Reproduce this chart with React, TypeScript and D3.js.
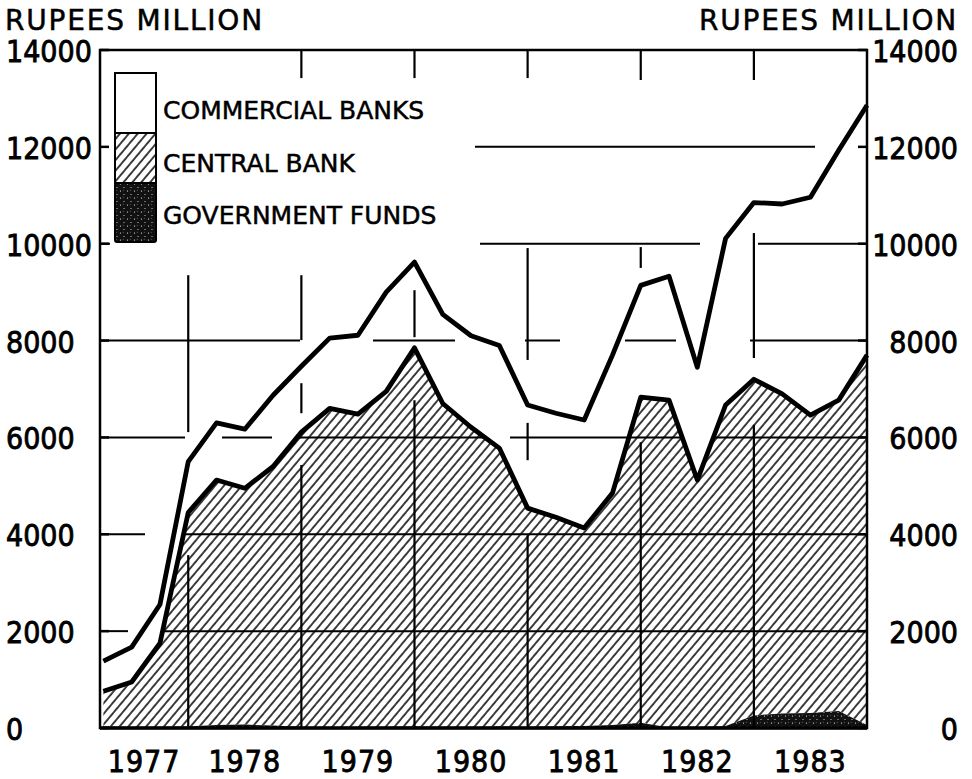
import React from 'react'
import * as d3 from 'd3'

// quarterly observations, end of quarter
const quarters = [
  '1977 Q1', '1977 Q2', '1977 Q3', '1977 Q4',
  '1978 Q1', '1978 Q2', '1978 Q3', '1978 Q4',
  '1979 Q1', '1979 Q2', '1979 Q3', '1979 Q4',
  '1980 Q1', '1980 Q2', '1980 Q3', '1980 Q4',
  '1981 Q1', '1981 Q2', '1981 Q3', '1981 Q4',
  '1982 Q1', '1982 Q2', '1982 Q3', '1982 Q4',
  '1983 Q1', '1983 Q2', '1983 Q3', '1983 Q4',
]
const governmentFunds = [
  30, 20, 20, 30, 60, 70, 50, 20, 10, 20, 20, 30, 20, 10,
  30, 20, 30, 40, 60, 110, 10, 10, 40, 260, 300, 310, 350, 60,
]
const centralBank = [
  730, 930, 1730, 4420, 5060, 4880, 5350, 6090, 6590, 6460, 6930, 7820, 6680, 6200,
  5750, 4520, 4320, 4090, 4790, 6720, 6760, 5110, 6630, 6940, 6600, 6150, 6420, 7640,
]
const commercialBanks = [
  620, 720, 800, 1050, 1180, 1220, 1470, 1360, 1450, 1630, 2050, 1770, 1840, 1890,
  2120, 2130, 2150, 2230, 2850, 2310, 2560, 2330, 3440, 3650, 3920, 4500, 5160, 5160,
]
const yTicks = [0, 2000, 4000, 6000, 8000, 10000, 12000, 14000]
const gridValues = [2000, 4000, 6000, 8000, 10000, 12000]
const years = [1977, 1978, 1979, 1980, 1981, 1982, 1983]
const legendItems = ['COMMERCIAL BANKS', 'CENTRAL BANK', 'GOVERNMENT FUNDS']
const unitLabel = 'RUPEES MILLION'

// the printed grid is broken up; these are the visible pieces (pixel dash patterns)
const gridDash: Record<number, string> = {
  2000: '28 2000',
  4000: '45 2000',
  6000: '85 37 50 48 145 45 155 55 147 100',
  8000: '200 73 82 70 35 65 51 74 120 100',
  10000: '10 370 220 58 110 100',
  12000: '0 375 340 2000',
}
// visible pieces of the year dividers, in rupee-million units
const dividerPieces: Record<number, [number, number][]> = {
  1978: [[9350, 6110], [3570, 0]],
  1979: [[14000, 13420], [9350, 8010], [7120, 6500], [5430, 0]],
  1980: [[14000, 13420], [9040, 8070], [6770, 0]],
  1981: [[14000, 13420], [9910, 7600], [6300, 5530], [3980, 0]],
  1982: [[14000, 13380], [9930, 9500], [5900, 0]],
  1983: [[14000, 13380], [10220, 7640], [6260, 0]],
}

const W = 972
const H = 779
const margin = { top: 50, right: 105, bottom: 51, left: 100 }
const numFont = '"DejaVu Sans Condensed", "DejaVu Sans", sans-serif'
const textFont = '"DejaVu Sans", sans-serif'

function quarterTime(q: string) {
  const [yr, qq] = q.split(' Q')
  return +yr + (+qq) * 0.25
}

export default function App() {
  const x = d3.scaleLinear().domain([1977.22, 1984]).range([margin.left, W - margin.right])
  const y = d3.scaleLinear().domain([0, 14000]).range([H - margin.bottom, margin.top])

  const rows = quarters.map((q, i) => ({
    t: quarterTime(q),
    govt: governmentFunds[i],
    central: centralBank[i],
    commercial: commercialBanks[i],
  }))
  const series = d3.stack<any>().keys(['govt', 'central', 'commercial'])(rows)

  const area = d3.area<any>()
    .x(d => x(d.data.t))
    .y0(d => y(d[0]))
    .y1(d => y(d[1]))
  const topLine = d3.line<any>()
    .x(d => x(d.data.t))
    .y(d => y(d[1]))
  const hatchArea = d3.area<any>()
    .x(d => x(d.data.t))
    .y0(y(0))
    .y1(d => y(d[1]))

  const x0 = x.range()[0], x1 = x.range()[1]
  const yb = y(0), yt = y(14000)

  return (
    <svg width={W} height={H} style={{ position: 'absolute', left: 0, top: 0, background: '#fff' }}>
      <defs>
        <pattern id="hatch" patternUnits="userSpaceOnUse" width={6.8} height={10}
          patternTransform="rotate(40)">
          <rect width={6.8} height={10} fill="#fff" />
          <line x1={1} y1={0} x2={1} y2={10} stroke="#000" strokeWidth={1.5} />
        </pattern>
        <pattern id="stipple" patternUnits="userSpaceOnUse" width={7} height={7}>
          <rect width={7} height={7} fill="#111" />
          <circle cx={1.5} cy={2} r={0.6} fill="#fff" />
          <circle cx={5} cy={5.5} r={0.5} fill="#fff" />
          <circle cx={4.2} cy={1.2} r={0.4} fill="#ddd" />
        </pattern>
        <clipPath id="hatchClip">
          <path d={hatchArea(series[1]) || ''} />
        </clipPath>
      </defs>

      {/* commercial banks: plain white band */}
      <path d={area(series[2]) || ''} fill="#fff" />

      {/* broken grid lines, visible through the white band */}
      <g stroke="#000" strokeWidth={2}>
        {gridValues.map(v => (
          <line key={v} x1={x0} x2={x1} y1={y(v)} y2={y(v)} strokeDasharray={gridDash[v]} />
        ))}
      </g>

      {/* central bank: hatched */}
      <path d={area(series[1]) || ''} fill="url(#hatch)" />

      {/* grid shows solid inside the hatched region */}
      <g stroke="#000" strokeWidth={2} clipPath="url(#hatchClip)">
        {gridValues.map(v => (
          <line key={v} x1={x0} x2={x1} y1={y(v)} y2={y(v)} />
        ))}
      </g>
      <path d={area(series[0]) || ''} fill="url(#stipple)" />

      {/* year dividers */}
      <g stroke="#000" strokeWidth={2.2}>
        {years.slice(1).map(yr => dividerPieces[yr].map(([a, b], j) => (
          <line key={yr + '-' + j} x1={x(yr)} x2={x(yr)} y1={y(a)} y2={y(b)} />
        )))}
      </g>

      {/* outlines */}
      <path d={topLine(series[2]) || ''} fill="none" stroke="#000" strokeWidth={4.8} strokeLinejoin="round" />
      <path d={topLine(series[1]) || ''} fill="none" stroke="#000" strokeWidth={4.8} strokeLinejoin="round" />

      {/* frame and ticks */}
      <rect x={x0} y={yt} width={x1 - x0} height={yb - yt} fill="none" stroke="#000" strokeWidth={2.5} />
      <line x1={x0} x2={x1} y1={yb} y2={yb} stroke="#000" strokeWidth={3.5} />
      <g stroke="#000" strokeWidth={2.5}>
        {yTicks.map(v => (
          <g key={v}>
            <line x1={x0} x2={x0 + 9} y1={y(v)} y2={y(v)} />
            <line x1={x1 - 9} x2={x1} y1={y(v)} y2={y(v)} />
          </g>
        ))}
      </g>

      {/* axis labels */}
      <g fontSize={30} fill="#000" fontFamily={numFont} stroke="#000" strokeWidth={0.8}>
        {yTicks.map(v => (
          <g key={v}>
            <text x={6} y={y(v) + 12}>{v}</text>
            <text x={958} y={y(v) + 12} textAnchor="end">{v}</text>
          </g>
        ))}
        {years.map(yr => {
          const a = Math.max(x(yr), x0)
          const b = Math.min(x(yr + 1), x1)
          return <text key={yr} x={(a + b) / 2} y={772} textAnchor="middle" letterSpacing={1}>{yr}</text>
        })}
      </g>
      <g fontSize={28} fill="#000" fontFamily={textFont} stroke="#000" strokeWidth={0.5} letterSpacing={1.8}>
        <text x={5} y={30}>{unitLabel}</text>
        <text x={958} y={30} textAnchor="end">{unitLabel}</text>
      </g>

      {/* legend */}
      <g stroke="#000" strokeWidth={2}>
        <rect x={115} y={73} width={41} height={60} fill="#fff" />
        <rect x={115} y={133} width={41} height={50} fill="url(#hatch)" />
        <rect x={115} y={183} width={41} height={59} fill="url(#stipple)" rx={2} />
      </g>
      <g fontSize={25} fill="#000" fontFamily={textFont} stroke="#000" strokeWidth={0.5}>
        {legendItems.map((label, i) => (
          <text key={label} x={163} y={[119, 172, 224][i]}>{label}</text>
        ))}
      </g>
    </svg>
  )
}
